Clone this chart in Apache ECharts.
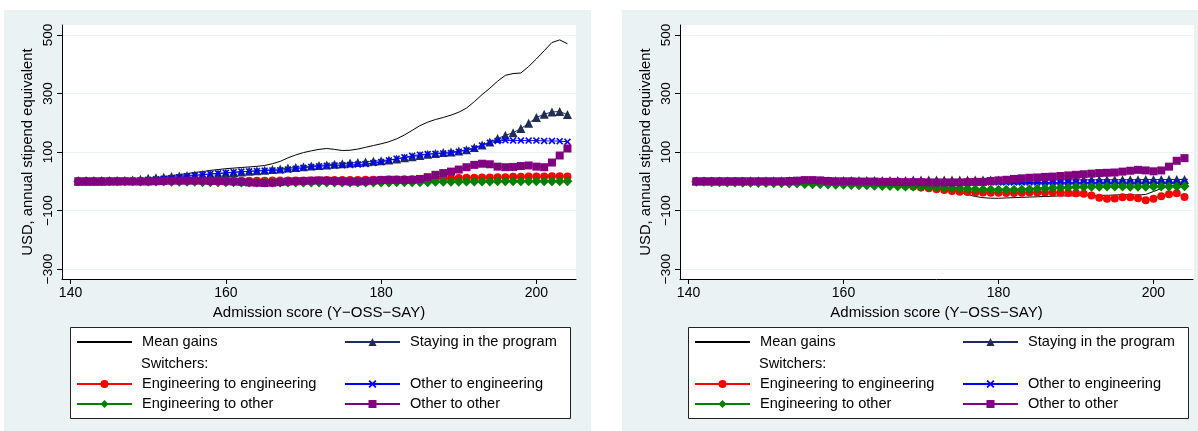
<!DOCTYPE html>
<html>
<head>
<meta charset="utf-8">
<script src="https://cdn.jsdelivr.net/npm/echarts@6/dist/echarts.min.js"></script>
<style>
html,body{margin:0;padding:0;background:#ffffff;}
#chart{width:1198px;height:431px;}
</style>
</head>
<body>
<div id="chart"></div>
<script>
// Admission scores (x)
const scores = [141,142,143,144,145,146,147,148,149,150,151,152,153,154,155,156,157,158,159,160,
161,162,163,164,165,166,167,168,169,170,171,172,173,174,175,176,177,178,179,180,
181,182,183,184,185,186,187,188,189,190,191,192,193,194,195,196,197,198,199,200,
201,202,203,204];

const xTicks = [140,160,180,200];
const yTicks = [-300,-100,100,300,500];

const seriesNames = ['Mean gains','Staying in the program','Engineering to engineering','Other to engineering','Engineering to other','Other to other'];

// ---- Left panel ----
const leftMean = [0,0,0,1,1,2,2,3,5,8, 12,16,19,23,26,30,33,37,40,43,
45,47,49,51,54,60,68,80,90,98, 104,109,112,109,105,106,110,116,122,128,
135,145,158,174,190,202,211,218,226,236, 250,272,296,318,342,362,368,370,392,418,
446,474,483,470];
const leftStay = [0,0,0,0,1,1,2,4,7,10, 12,14,16,18,20,21,23,25,26,28,
30,32,34,36,38,40,42,45,47,50, 52,54,56,58,60,62,64,66,68,70,
73,76,80,84,88,92,95,98,100,103, 108,115,124,134,146,157,166,180,198,218,
229,237,238,228];
const leftEngEng = [0,0,0,0,0,0,0,1,1,1, 1,1,1,1,2,2,2,2,2,2,
2,2,2,2,2,3,3,3,3,3, 3,3,4,4,4,4,4,5,5,5,
6,6,7,7,8,8,9,10,10,11, 12,12,13,13,14,14,15,15,16,16,
16,17,17,16];
const leftOthEng = [0,0,0,0,0,1,1,2,3,5, 7,9,11,14,17,20,22,25,27,29,
31,33,34,35,36,37,38,40,43,46, 49,51,53,54,55,56,57,59,62,66,
71,77,82,87,91,93,94,95,97,101, 106,112,122,132,138,140,139,139,139,139,
138,138,137,135];
const leftEngOth = [0,0,0,0,0,0,0,0,-1,-1, -1,-1,-2,-2,-2,-2,-3,-3,-3,-3,
-3,-4,-4,-4,-4,-4,-4,-4,-4,-4, -4,-4,-4,-4,-4,-4,-4,-4,-4,-4,
-4,-3,-3,-3,-3,-3,-2,-2,-2,-2, -1,-1,-1,-1,0,0,0,0,0,0,
0,0,0,0];
const leftOthOth = [0,0,0,0,0,0,0,-1,-1,-1, 0,1,2,2,2,2,2,1,1,0,
-1,-2,-4,-5,-6,-5,-3,-1,0,1, 2,3,2,1,0,-1,-1,0,2,4,
5,5,4,5,8,14,22,28,33,40, 48,56,60,58,50,48,49,52,54,50,
48,64,88,112];

// ---- Right panel ----
const rightMean = [0,0,0,0,0,0,0,0,0,0, 0,0,0,-1,-1,-1,-1,-2,-2,-2,
-3,-3,-4,-5,-6,-8,-10,-12,-14,-17, -20,-23,-26,-30,-36,-45,-52,-56,-58,-58,
-57,-56,-55,-54,-53,-52,-51,-50,-50,-50, -49,-49,-48,-48,-47,-46,-46,-47,-45,-35,
-25,-18,-12,-10];
const rightStay = [1,1,1,1,1,1,1,2,2,2, 2,2,2,2,2,2,2,2,2,3,
3,3,3,3,3,3,3,3,4,4, 4,4,4,4,4,4,4,4,4,4,
4,4,4,5,5,5,5,5,5,5, 5,5,5,5,5,5,5,5,6,6,
6,6,6,6];
const rightEngEng = [0,0,0,0,0,0,0,-1,-1,-1, -1,-2,-2,-2,-3,-3,-3,-4,-4,-5,
-5,-6,-7,-8,-9,-10,-12,-15,-18,-21, -24,-27,-30,-33,-36,-37,-38,-38,-39,-39,
-40,-40,-39,-38,-38,-38,-38,-39,-40,-41, -43,-49,-56,-60,-59,-55,-55,-58,-65,-60,
-51,-44,-41,-54];
const rightOthEng = [0,0,0,0,0,0,0,0,0,0, 0,0,0,0,-1,-1,-1,-1,-1,-1,
-1,-2,-2,-2,-2,-2,-3,-3,-3,-3, -3,-3,-4,-4,-4,-4,-4,-4,-4,-4,
-4,-4,-4,-4,-4,-4,-4,-4,-4,-4, -4,-4,-4,-3,-3,-3,-3,-3,-3,-3,
-3,-3,-3,-2];
const rightEngOth = [-2,-2,-3,-3,-4,-4,-5,-5,-6,-6, -7,-7,-8,-8,-9,-10,-10,-11,-12,-12,
-13,-14,-14,-15,-16,-16,-17,-18,-18,-19, -20,-21,-22,-24,-25,-26,-27,-28,-28,-29,
-29,-29,-28,-27,-26,-25,-23,-22,-21,-20, -20,-19,-19,-18,-18,-18,-19,-19,-19,-18,
-18,-18,-18,-17];
const rightOthOth = [0,0,0,0,0,0,0,0,0,0, 0,0,1,2,4,4,3,1,0,0,
0,-1,-1,-1,-2,-2,-2,-3,-3,-3, -4,-4,-4,-4,-4,-3,-2,-2,1,3,
5,8,10,12,13,15,16,18,20,22, 24,26,28,29,30,33,36,39,37,34,
37,50,70,79];

const leftData = [leftMean,leftStay,leftEngEng,leftOthEng,leftEngOth,leftOthOth];
const rightData = [rightMean,rightStay,rightEngEng,rightOthEng,rightEngOth,rightOthOth];

const xPath = 'path://M0,1.6L1.6,0L5,3.4L8.4,0L10,1.6L6.6,5L10,8.4L8.4,10L5,6.6L1.6,10L0,8.4L3.4,5Z';
const styles = [
  {color:'#000000', symbol:'none', size:0},
  {color:'#1f2d57', symbol:'triangle', size:9},
  {color:'#ff0000', symbol:'circle', size:8},
  {color:'#0000ff', symbol:xPath, size:7},
  {color:'#008000', symbol:'diamond', size:10},
  {color:'#800080', symbol:'rect', size:8}
];

const FONT = 'Liberation Sans, Arial, Helvetica, sans-serif';
const minus = v => String(v).replace('-', '\u2212');

function makeSeries(data, idx) {
  return data.map((vals, k) => ({
    name: seriesNames[k],
    type: 'line',
    xAxisIndex: idx, yAxisIndex: idx,
    data: scores.map((s, i) => [s, vals[i]]),
    symbol: styles[k].symbol,
    symbolSize: styles[k].size,
    showSymbol: styles[k].symbol !== 'none',
    itemStyle: {color: styles[k].color},
    lineStyle: {color: styles[k].color, width: 1},
    z: 2 + k,
    animation: false,
    silent: true
  }));
}

function xAxis(idx) {
  return {
    type:'value', gridIndex: idx, min: 138.9, max: 205.1,
    name: 'Admission score (Y\u2212OSS\u2212SAY)', nameLocation:'middle', nameGap: 23,
    nameTextStyle:{fontFamily:FONT, fontSize:15, color:'#000'},
    axisLine:{show:true, onZero:false, lineStyle:{color:'#000', width:1}},
    axisTick:{show:true, length:5, lineStyle:{color:'#000'}, customValues: xTicks},
    axisLabel:{fontFamily:FONT, fontSize:14, color:'#000', margin:7, customValues: xTicks, formatter: minus},
    splitLine:{show:false}
  };
}
function yAxis(idx) {
  return {
    type:'value', gridIndex: idx, min: -334, max: 534,
    name: 'USD, annual stipend equivalent', nameLocation:'middle', nameGap: 27,
    nameTextStyle:{fontFamily:FONT, fontSize:14.8, color:'#000'},
    axisLine:{show:true, onZero:false, lineStyle:{color:'#000', width:1}},
    axisTick:{show:true, length:5, lineStyle:{color:'#000'}, customValues: yTicks},
    axisLabel:{fontFamily:FONT, fontSize:13.5, color:'#000', margin:7, rotate:90, customValues: yTicks, formatter: minus},
    splitLine:{show:true, lineStyle:{color:'#eaf2f3', width:1}}
  };
}

function legends(offsetX) {
  const cols = [76 + offsetX, 344 + offsetX];
  const rows = [342, 384, 404];
  const place = [[0,0],[1,0],[0,1],[1,1],[0,2],[1,2]];
  return seriesNames.map((n, k) => ({
    data: [k === 0 ? {name: n, itemStyle: {opacity: 0}} : n],
    left: cols[place[k][0]],
    top: rows[place[k][1]] - 8,
    orient: 'horizontal',
    itemWidth: 55, itemHeight: 10,
    padding: 0,
    selectedMode: false,
    textStyle: {fontFamily: FONT, fontSize: 14.6, color:'#000', lineHeight: 16, padding:[0,0,0,5]}
  }));
}

function panelGraphics(offsetX, bgLeft, bgWidth) {
  return [
    {type:'rect', z:-20, shape:{x:bgLeft, y:10, width:bgWidth, height:421}, style:{fill:'#eaf2f3'}, silent:true},
    {type:'rect', z:-19, shape:{x:62+offsetX, y:25, width:514, height:254}, style:{fill:'#ffffff'}, silent:true},
    {type:'rect', z:-18, shape:{x:70.5+offsetX, y:327.5, width:500, height:91}, style:{fill:'#ffffff', stroke:'#222', lineWidth:1}, silent:true},
    {type:'text', z:10, x:141+offsetX, y:363.5, style:{text:'Switchers:', fontFamily:FONT, fontSize:14.6, fill:'#000', verticalAlign:'middle', align:'left'}, silent:true}
  ];
}

const chart = echarts.init(document.getElementById('chart'), null, {renderer:'canvas'});
chart.setOption({
  animation: false,
  backgroundColor: '#ffffff',
  grid: [
    {left:62, top:25, width:514, height:254, containLabel:false},
    {left:680, top:25, width:513, height:254, containLabel:false}
  ],
  xAxis: [xAxis(0), xAxis(1)],
  yAxis: [yAxis(0), yAxis(1)],
  legend: legends(0).concat(legends(618)),
  graphic: panelGraphics(0, 4, 587).concat(panelGraphics(618, 622, 576)),
  series: makeSeries(leftData, 0).concat(makeSeries(rightData, 1))
});
</script>
</body>
</html>
